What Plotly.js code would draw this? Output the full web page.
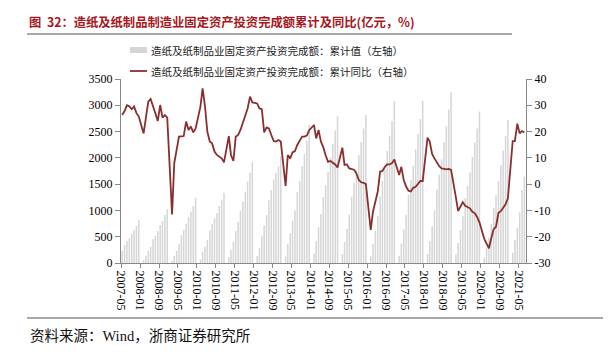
<!DOCTYPE html>
<html>
<head>
<meta charset="utf-8">
<script src="https://cdn.plot.ly/plotly-3.0.1.min.js"></script>
<style>
html,body{margin:0;padding:0;background:#fff;}
#chart{width:615px;height:354px;}
</style>
</head>
<body>
<div id="chart"></div>
<script>
// Months from 2007-05 to 2021-07 (January has no published value)
var startYear = 2007, startMonth = 5, endYear = 2021, endMonth = 7;
var months = [];
for (var y = startYear; y <= endYear; y++) {
  for (var m = 1; m <= 12; m++) {
    if (y === startYear && m < startMonth) continue;
    if (y === endYear && m > endMonth) break;
    months.push(y + '-' + (m < 10 ? '0' + m : m));
  }
}

// 累计值 (亿元), left axis
var cumValue2007 = [234, 342, 424, 469, 552, 628, 704, 812];
var cumValue2008 = [null, 57, 139, 228, 310, 450, 514, 609, 723, 799, 913, 1021];
var cumValue2009 = [null, 40, 135, 230, 360, 530, 630, 745, 880, 975, 1085, 1242];
var cumValue2010 = [null, 70, 215, 310, 435, 620, 740, 850, 945, 1085, 1200, 1338];
var cumValue2011 = [null, 108, 250, 406, 609, 786, 995, 1166, 1356, 1547, 1718, 1915];
var cumValue2012 = [null, 135, 280, 510, 720, 910, 1195, 1390, 1590, 1710, 1840, 2025];
var cumValue2013 = [null, 130, 360, 565, 805, 1000, 1350, 1560, 1840, 2070, 2330, 2625];
var cumValue2014 = [null, 180, 420, 680, 930, 1250, 1480, 1730, 2010, 2260, 2520, 2790];
var cumValue2015 = [null, 170, 400, 650, 920, 1260, 1520, 1770, 2050, 2300, 2560, 2815];
var cumValue2016 = [null, 130, 360, 610, 900, 1260, 1560, 1830, 2130, 2420, 2700, 3080];
var cumValue2017 = [null, 140, 370, 640, 920, 1300, 1580, 1850, 2160, 2450, 2740, 3085];
var cumValue2018 = [null, 170, 420, 700, 1000, 1400, 1680, 1970, 2290, 2600, 2920, 3250];
var cumValue2019 = [null, 160, 380, 630, 890, 1230, 1470, 1720, 2020, 2290, 2560, 2880];
var cumValue2020 = [null, 100, 280, 480, 740, 1050, 1290, 1560, 1860, 2140, 2420, 2720];
var cumValue2021 = [null, 196, 437, 672, 964, 1388, 1641];

// 累计同比 (%), right axis
var yoy2007 = [26.3, 27.8, 30.0, 29.6, 28.5, 29.5, 27.0, 25.7];
var yoy2008 = [null, 19.3, 25.0, 31.4, 32.4, 30.0, 27.0, 24.0, 30.1, 25.3, 26.3, 25.3];
var yoy2009 = [null, -11.5, 7.9, 13.0, 18.1, 18.2, 18.3, 23.8, 20.6, 21.9, 19.7, 21.2];
var yoy2010 = [null, 29.5, 36.4, 29.5, 19.9, 16.2, 15.5, 12.4, 11.1, 10.5, 9.8, 8.3];
var yoy2011 = [null, 18.3, 11.1, 8.8, 18.0, 18.7, 20.6, 23.1, 25.7, 28.8, 33.3, 31.1];
var yoy2012 = [null, 30.7, 28.8, 28.5, 19.7, 21.6, 21.2, 18.7, 16.4, 16.2, 16.8, 16.2];
var yoy2013 = [null, -0.7, 11.1, 9.8, 12.1, 12.6, 14.9, 16.5, 18.1, 18.1, 18.5, 20.5];
var yoy2014 = [null, 22.5, 17.4, 20.6, 16.2, 14.0, 11.0, 8.5, 8.8, 8.3, 7.5, 6.3];
var yoy2015 = [null, 13.9, 7.3, 7.5, 6.0, 5.8, 5.5, 4.1, 1.6, 0.7, 0.5, 0.0];
var yoy2016 = [null, -17.4, -10.5, -6.0, -2.9, 4.8, 5.0, 6.6, 7.5, 7.5, 8.0, 9.4];
var yoy2017 = [null, 3.5, 6.6, 1.6, -0.9, -2.5, -2.8, -1.4, -1.0, -0.1, 1.2, 1.2];
var yoy2018 = [null, 17.7, 16.2, 11.5, 9.8, 8.0, 6.8, 6.0, 5.8, 5.6, 5.8, 5.4];
var yoy2019 = [null, -5.0, -10.2, -8.5, -6.9, -8.2, -8.8, -9.2, -10.5, -11.0, -12.5, -14.5];
var yoy2020 = [null, -20.8, -22.5, -24.4, -20.6, -17.1, -16.2, -11.0, -10.3, -9.0, -7.7, -5.4];
var yoy2021 = [null, 16.4, 16.4, 23.0, 19.3, 20.2, 19.6];

var cumValues = [].concat(cumValue2007, cumValue2008, cumValue2009, cumValue2010, cumValue2011,
  cumValue2012, cumValue2013, cumValue2014, cumValue2015, cumValue2016, cumValue2017,
  cumValue2018, cumValue2019, cumValue2020, cumValue2021);
var yoyValues = [].concat(yoy2007, yoy2008, yoy2009, yoy2010, yoy2011, yoy2012, yoy2013,
  yoy2014, yoy2015, yoy2016, yoy2017, yoy2018, yoy2019, yoy2020, yoy2021);

var tickLabels = ['2007-05','2008-01','2008-09','2009-05','2010-01','2010-09','2011-05',
  '2012-01','2012-09','2013-05','2014-01','2014-09','2015-05','2016-01','2016-09','2017-05',
  '2018-01','2018-09','2019-05','2020-01','2020-09','2021-05'];
var leftTicks = [0, 500, 1000, 1500, 2000, 2500, 3000, 3500];
var rightTicks = [-30, -20, -10, 0, 10, 20, 30, 40];

var titleText = '图  32：造纸及纸制品制造业固定资产投资完成额累计及同比(亿元，%)';
var barName = '造纸及纸制品业固定资产投资完成额：累计值（左轴）';
var lineName = '造纸及纸制品业固定资产投资完成额：累计同比（右轴）';
var sourceLead = '资料来源：', sourceWind = 'Wind', sourceTail = '，浙商证券研究所';

var xDates = months.map(function (s) { return s + '-16'; });

var barColor = '#d6d6d6';
var lineColor = '#8a2e2e';
var serif = 'Liberation Serif, Times New Roman, serif';
var cjk = 'Noto Sans CJK SC, sans-serif';

var traces = [
  {
    type: 'bar', x: xDates, y: cumValues, name: barName,
    marker: {color: barColor, line: {width: 0}}, yaxis: 'y', showlegend: false,
    hoverinfo: 'skip'
  },
  {
    type: 'scatter', mode: 'lines', x: xDates, y: yoyValues, name: lineName,
    line: {color: lineColor, width: 1.8}, connectgaps: true, yaxis: 'y2', showlegend: false,
    hoverinfo: 'skip'
  }
];

function px2x(p) { return (p - 121) / 405; }
function px2y(p) { return (263 - p) / 184; }

var layout = {
  width: 615, height: 354,
  margin: {l: 121, r: 89, t: 79, b: 91},
  paper_bgcolor: '#fff', plot_bgcolor: '#fff',
  bargap: 0.3,
  showlegend: false,
  xaxis: {
    type: 'date',
    range: ['2007-05-01', '2021-08-06'],
    tickvals: tickLabels.map(function (s) { return s + '-01'; }),
    ticktext: tickLabels,
    tickangle: 90,
    ticks: 'outside', ticklen: 4, tickcolor: '#888', tickwidth: 1,
    showline: true, linecolor: '#888', linewidth: 1,
    showgrid: false, zeroline: false,
    tickfont: {family: serif, size: 12, color: '#000'}
  },
  yaxis: {
    range: [0, 3500],
    tickvals: leftTicks, ticktext: leftTicks.map(String),
    ticks: 'outside', ticklen: 5, tickcolor: '#888',
    showline: true, linecolor: '#888', linewidth: 1,
    showgrid: false, zeroline: false,
    tickfont: {family: serif, size: 12, color: '#000'}
  },
  yaxis2: {
    range: [-30, 40], overlaying: 'y', side: 'right',
    tickvals: rightTicks, ticktext: rightTicks.map(String),
    ticks: 'outside', ticklen: 5, tickcolor: '#888',
    showline: true, linecolor: '#888', linewidth: 1,
    showgrid: false, zeroline: false,
    tickfont: {family: serif, size: 12, color: '#000'}
  },
  shapes: [
    {type: 'line', xref: 'paper', yref: 'paper', x0: px2x(27), x1: px2x(512), y0: px2y(34), y1: px2y(34),
      line: {color: '#8c8c8c', width: 1.5}},
    {type: 'line', xref: 'paper', yref: 'paper', x0: px2x(27), x1: px2x(603), y0: px2y(318), y1: px2y(318),
      line: {color: '#8c8c8c', width: 1.5}},
    {type: 'rect', xref: 'paper', yref: 'paper', x0: px2x(130), x1: px2x(147), y0: px2y(53), y1: px2y(47),
      fillcolor: barColor, line: {width: 0}},
    {type: 'line', xref: 'paper', yref: 'paper', x0: px2x(130), x1: px2x(147), y0: px2y(71), y1: px2y(71),
      line: {color: lineColor, width: 1.8}}
  ],
  annotations: [
    {xref: 'paper', yref: 'paper', x: px2x(27), y: px2y(22), xanchor: 'left', yanchor: 'middle',
      text: '<b>' + titleText + '</b>', showarrow: false,
      font: {family: cjk, size: 12.3, color: '#a8171c'}},
    {xref: 'paper', yref: 'paper', x: px2x(149), y: px2y(50), xanchor: 'left', yanchor: 'middle',
      text: barName, showarrow: false, font: {family: cjk, size: 10.5, color: '#222'}},
    {xref: 'paper', yref: 'paper', x: px2x(149), y: px2y(71), xanchor: 'left', yanchor: 'middle',
      text: lineName, showarrow: false, font: {family: cjk, size: 10.5, color: '#222'}},
    {xref: 'paper', yref: 'paper', x: px2x(28), y: px2y(334), xanchor: 'left', yanchor: 'middle',
      text: sourceLead + '<span style="font-family:Liberation Serif">' + sourceWind + '</span>' + sourceTail,
      showarrow: false, font: {family: cjk, size: 14.5, color: '#111'}}
  ]
};

Plotly.newPlot('chart', traces, layout, {displayModeBar: false, staticPlot: true});
</script>
</body>
</html>
